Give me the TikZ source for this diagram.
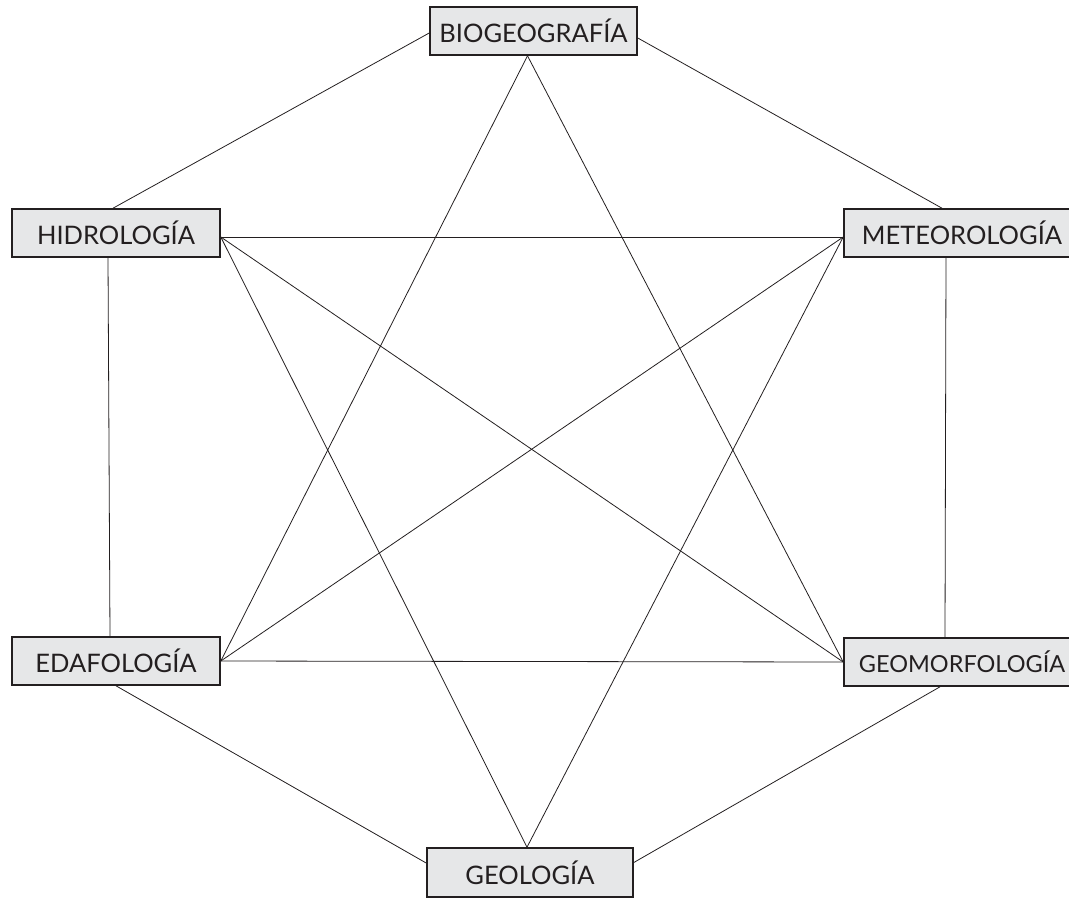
\documentclass[tikz,border=0pt]{standalone}
\usepackage{fontspec}
\setmainfont{Lato}
\definecolor{boxfill}{HTML}{E6E7E8}
\definecolor{ink}{HTML}{231F20}
\begin{document}
\begin{tikzpicture}[x=1pt,y=-1pt,
  field/.style={draw=ink,line width=1.6pt,fill=boxfill,inner sep=0pt,
    minimum height=48pt,text=ink,font=\fontsize{25.5}{30}\selectfont},
  link/.style={draw=ink,line width=0.8pt}]
\useasboundingbox (0,0) rectangle (1069,898);
\clip (0,0) rectangle (1069,898);
\node[field,minimum width=207pt] (bio) at (533.5,31) {BIOGEOGRAFÍA};
\node[field,minimum width=208pt] (hid) at (116,233) {HIDROLOGÍA};
\node[field,minimum width=236pt] (met) at (962,233) {METEOROLOGÍA};
\node[field,minimum width=208pt] (eda) at (116,661) {EDAFOLOGÍA};
\node[field,minimum width=236pt,font=\fontsize{23.5}{28}\selectfont] (gmf) at (962,662) {GEOMORFOLOGÍA};
\node[field,minimum width=206pt,minimum height=49pt] (geo) at (530,872.5) {GEOLOGÍA};
% outer hexagon
\draw[link] ([yshift=-2pt]bio.west) -- ([xshift=-3pt]hid.north);
\draw[link] ([yshift=-7pt]bio.east) -- ([xshift=-20pt]met.north);
\draw[link] ([xshift=-8pt]hid.south) -- ([xshift=-6pt]eda.north);
\draw[link] ([xshift=-16pt]met.south) -- ([xshift=-17pt]gmf.north);
\draw[link] (eda.south) -- ([yshift=9.5pt]geo.west);
\draw[link] ([xshift=-22pt]gmf.south) -- ([yshift=10pt]geo.east);
% inner lines
\draw[link] ([xshift=-6pt]bio.south) -- (eda.east);
\draw[link] ([xshift=-6pt]bio.south) -- (gmf.west);
\draw[link] ([yshift=-4pt]hid.east) -- ([yshift=-4pt]met.west);
\draw[link] ([yshift=-4pt]hid.east) -- (gmf.west);
\draw[link] ([yshift=-4pt]hid.east) -- ([xshift=-3pt]geo.north);
\draw[link] ([yshift=-4pt]met.west) -- (eda.east);
\draw[link] ([yshift=-4pt]met.west) -- ([xshift=-3pt]geo.north);
\draw[link] (eda.east) -- (gmf.west);
\end{tikzpicture}
\end{document}
